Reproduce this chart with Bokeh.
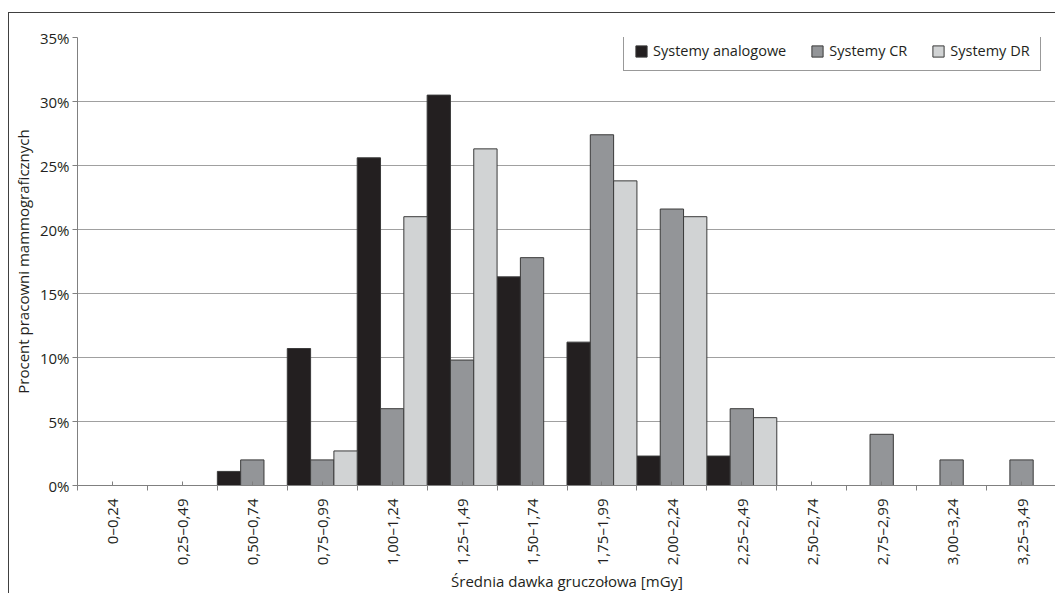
import numpy as np
from bokeh.plotting import figure
from bokeh.models import (ColumnDataSource, Range1d, FixedTicker, PrintfTickFormatter,
                          Legend, LegendItem)
from bokeh.transform import dodge
from bokeh.embed import file_html
from bokeh.resources import INLINE

# Dose bins (mean glandular dose, mGy)
categories = ["0–0,24", "0,25–0,49", "0,50–0,74", "0,75–0,99", "1,00–1,24", "1,25–1,49",
              "1,50–1,74", "1,75–1,99", "2,00–2,24", "2,25–2,49", "2,50–2,74", "2,75–2,99",
              "3,00–3,24", "3,25–3,49"]

# Share of mammography units per bin, in percent
analog = [0, 0, 1.1, 10.7, 25.6, 30.5, 16.3, 11.2, 2.3, 2.3, 0, 0, 0, 0]
cr = [0, 0, 2.0, 2.0, 6.0, 9.8, 17.8, 27.4, 21.6, 6.0, 0, 4.0, 2.0, 2.0]
dr = [0, 0, 0, 2.7, 21.0, 26.3, 0, 23.8, 21.0, 5.3, 0, 0, 0, 0]

series_names = ["Systemy analogowe", "Systemy CR", "Systemy DR"]
y_ticks = [0, 5, 10, 15, 20, 25, 30, 35]

FONT = "Open Sans"
TEXT = "#231f20"
AXIS = "#808080"

n = len(categories)
centers = np.arange(n) + 0.5
source = ColumnDataSource(dict(x=centers, analog=analog, cr=cr, dr=dr))

p = figure(width=1047, height=581, x_range=Range1d(0, n), y_range=Range1d(0, 35),
           output_backend="svg", toolbar_location=None,
           min_border_left=68, min_border_right=0, min_border_top=24, min_border_bottom=100)
p.outline_line_color = None
p.background_fill_color = "white"
p.border_fill_color = "white"
# thin frame around the chart (left and top edges visible in the window)
p.styles = {"margin-left": "8px", "margin-top": "12px",
            "border-left": "1px solid #404040", "border-top": "1px solid #404040"}

w = 1 / 3
bar_line = "#3a3a3a"
r1 = p.vbar(x=dodge("x", -w, range=p.x_range), top="analog", width=w, source=source,
            fill_color="#231f20", line_color=bar_line, line_width=1)
r2 = p.vbar(x=dodge("x", 0, range=p.x_range), top="cr", width=w, source=source,
            fill_color="#939598", line_color=bar_line, line_width=1)
r3 = p.vbar(x=dodge("x", w, range=p.x_range), top="dr", width=w, source=source,
            fill_color="#d1d3d4", line_color=bar_line, line_width=1)

# x axis: labels at bin centres, outer tick marks at bin boundaries
xa = p.xaxis[0]
xa.ticker = FixedTicker(ticks=list(centers), minor_ticks=list(range(n + 1)))
xa.major_label_overrides = {float(c): lab for c, lab in zip(centers, categories)}
xa.major_label_orientation = np.pi / 2
xa.major_tick_out = 0
xa.major_tick_in = 4
xa.major_tick_line_color = AXIS
xa.minor_tick_out = 5
xa.minor_tick_in = 0
xa.minor_tick_line_color = AXIS
xa.major_label_standoff = 8
xa.axis_line_color = AXIS
xa.major_label_text_font = FONT
xa.major_label_text_font_size = "15px"
xa.major_label_text_color = TEXT
xa.axis_label = "Średnia dawka gruczołowa [mGy]"
xa.axis_label_text_font = FONT
xa.axis_label_text_font_size = "15px"
xa.axis_label_text_font_style = "normal"
xa.axis_label_text_color = TEXT
xa.axis_label_standoff = 3

ya = p.yaxis[0]
ya.ticker = FixedTicker(ticks=y_ticks)
ya.formatter = PrintfTickFormatter(format="%d%%")
ya.major_tick_out = 5
ya.major_tick_in = 0
ya.minor_tick_out = 0
ya.minor_tick_in = 0
ya.major_tick_line_color = AXIS
ya.axis_line_color = AXIS
ya.major_label_standoff = 3
ya.major_label_text_font = FONT
ya.major_label_text_font_size = "15px"
ya.major_label_text_color = TEXT
ya.axis_label = "Procent pracowni mammograficznych"
ya.axis_label_text_font = FONT
ya.axis_label_text_font_size = "15px"
ya.axis_label_text_font_style = "normal"
ya.axis_label_text_color = TEXT
ya.axis_label_standoff = 4

p.xgrid.grid_line_color = None
p.ygrid.ticker = FixedTicker(ticks=y_ticks)
p.ygrid.grid_line_color = "#a0a0a0"
p.ygrid.grid_line_width = 1

legend = Legend(items=[LegendItem(label=series_names[0], renderers=[r1]),
                       LegendItem(label=series_names[1], renderers=[r2]),
                       LegendItem(label=series_names[2], renderers=[r3])],
                orientation="horizontal", location=(546, 414), margin=0,
                padding=10, spacing=24, glyph_width=14, glyph_height=14,
                label_standoff=5, label_height=14,
                label_text_font=FONT, label_text_font_size="14.5px", label_text_color=TEXT,
                border_line_color="#333333", border_line_width=1,
                background_fill_color="white", background_fill_alpha=1)
p.add_layout(legend, "center")

open("out.html", "w").write(file_html(p, INLINE))
